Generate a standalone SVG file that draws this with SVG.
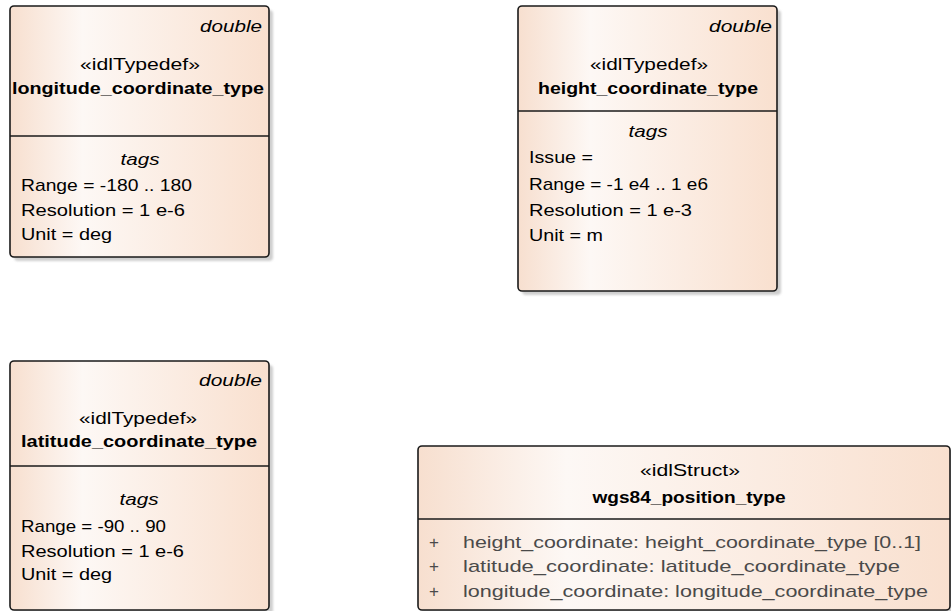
<svg xmlns="http://www.w3.org/2000/svg" width="951" height="611" viewBox="0 0 951 611">
<defs>
<linearGradient id="fillGrad" x1="0" y1="0" x2="1" y2="0">
<stop offset="0" stop-color="#f7dfcf"/>
<stop offset="0.28" stop-color="#fdf8f5"/>
<stop offset="1" stop-color="#f9e0cf"/>
</linearGradient>
<filter id="blur" x="-5%" y="-5%" width="110%" height="110%"><feGaussianBlur stdDeviation="1"/></filter>
</defs>
<style>
.shadow{fill:#cfcfcf;filter:url(#blur)}
.box{fill:url(#fillGrad);stroke:#1a1a1a;stroke-width:1.6}
.div{stroke:#1a1a1a;stroke-width:1.6}
text{font-family:"Liberation Sans",Arial,sans-serif;font-size:17px;fill:#000}
.it{font-style:italic}
.b{font-weight:bold}
.mid{text-anchor:middle}
.end{text-anchor:end}
.attr{fill:#4a4a4a}
</style>
<g id="longitude_coordinate_type">
<rect class="shadow" x="14" y="10" width="259" height="251" rx="4"/>
<rect class="box" x="10" y="6" width="259" height="251" rx="4"/>
<line class="div" x1="10" y1="136" x2="269" y2="136"/>
<text class="it end" x="262" y="32" textLength="62" lengthAdjust="spacingAndGlyphs">double</text>
<text class="mid" x="140" y="70" textLength="120" lengthAdjust="spacingAndGlyphs">«idlTypedef»</text>
<text class="b mid" x="138" y="94" textLength="252" lengthAdjust="spacingAndGlyphs">longitude_coordinate_type</text>
<text class="it mid" x="140" y="165" textLength="39" lengthAdjust="spacingAndGlyphs">tags</text>
<text x="21" y="191" textLength="171" lengthAdjust="spacingAndGlyphs">Range = -180 .. 180</text>
<text x="21" y="216" textLength="164" lengthAdjust="spacingAndGlyphs">Resolution = 1 e-6</text>
<text x="21" y="240" textLength="91" lengthAdjust="spacingAndGlyphs">Unit = deg</text>
</g>
<g id="height_coordinate_type">
<rect class="shadow" x="522" y="10" width="259" height="285" rx="4"/>
<rect class="box" x="518" y="6" width="259" height="285" rx="4"/>
<line class="div" x1="518" y1="111" x2="777" y2="111"/>
<text class="it end" x="772" y="32" textLength="63" lengthAdjust="spacingAndGlyphs">double</text>
<text class="mid" x="649" y="70" textLength="118" lengthAdjust="spacingAndGlyphs">«idlTypedef»</text>
<text class="b mid" x="648" y="94" textLength="220" lengthAdjust="spacingAndGlyphs">height_coordinate_type</text>
<text class="it mid" x="648" y="137" textLength="39" lengthAdjust="spacingAndGlyphs">tags</text>
<text x="529" y="163" textLength="64" lengthAdjust="spacingAndGlyphs">Issue =</text>
<text x="529" y="190" textLength="179" lengthAdjust="spacingAndGlyphs">Range = -1 e4 .. 1 e6</text>
<text x="529" y="216" textLength="163" lengthAdjust="spacingAndGlyphs">Resolution = 1 e-3</text>
<text x="529" y="241" textLength="74" lengthAdjust="spacingAndGlyphs">Unit = m</text>
</g>
<g id="latitude_coordinate_type">
<rect class="shadow" x="14" y="365" width="259" height="249" rx="4"/>
<rect class="box" x="10" y="361" width="259" height="249" rx="4"/>
<line class="div" x1="10" y1="466" x2="269" y2="466"/>
<text class="it end" x="262" y="386" textLength="63" lengthAdjust="spacingAndGlyphs">double</text>
<text class="mid" x="138" y="424" textLength="118" lengthAdjust="spacingAndGlyphs">«idlTypedef»</text>
<text class="b mid" x="139" y="447" textLength="236" lengthAdjust="spacingAndGlyphs">latitude_coordinate_type</text>
<text class="it mid" x="139" y="505" textLength="39" lengthAdjust="spacingAndGlyphs">tags</text>
<text x="21" y="532" textLength="145" lengthAdjust="spacingAndGlyphs">Range = -90 .. 90</text>
<text x="21" y="557" textLength="163" lengthAdjust="spacingAndGlyphs">Resolution = 1 e-6</text>
<text x="21" y="580" textLength="91" lengthAdjust="spacingAndGlyphs">Unit = deg</text>
</g>
<g id="wgs84_position_type">
<rect class="shadow" x="422" y="450" width="532" height="164" rx="4"/>
<rect class="box" x="418" y="446" width="532" height="164" rx="4"/>
<line class="div" x1="418" y1="519" x2="950" y2="519"/>
<text class="mid" x="690" y="476" textLength="100" lengthAdjust="spacingAndGlyphs">«idlStruct»</text>
<text class="b mid" x="689" y="503" textLength="193" lengthAdjust="spacingAndGlyphs">wgs84_position_type</text>
<text class="attr" x="429" y="548">+</text>
<text class="attr" x="463" y="548" textLength="458" lengthAdjust="spacingAndGlyphs">height_coordinate: height_coordinate_type [0..1]</text>
<text class="attr" x="429" y="572">+</text>
<text class="attr" x="463" y="572" textLength="437" lengthAdjust="spacingAndGlyphs">latitude_coordinate: latitude_coordinate_type</text>
<text class="attr" x="429" y="597">+</text>
<text class="attr" x="463" y="597" textLength="465" lengthAdjust="spacingAndGlyphs">longitude_coordinate: longitude_coordinate_type</text>
</g>
<g id="connectors"></g>
</svg>
